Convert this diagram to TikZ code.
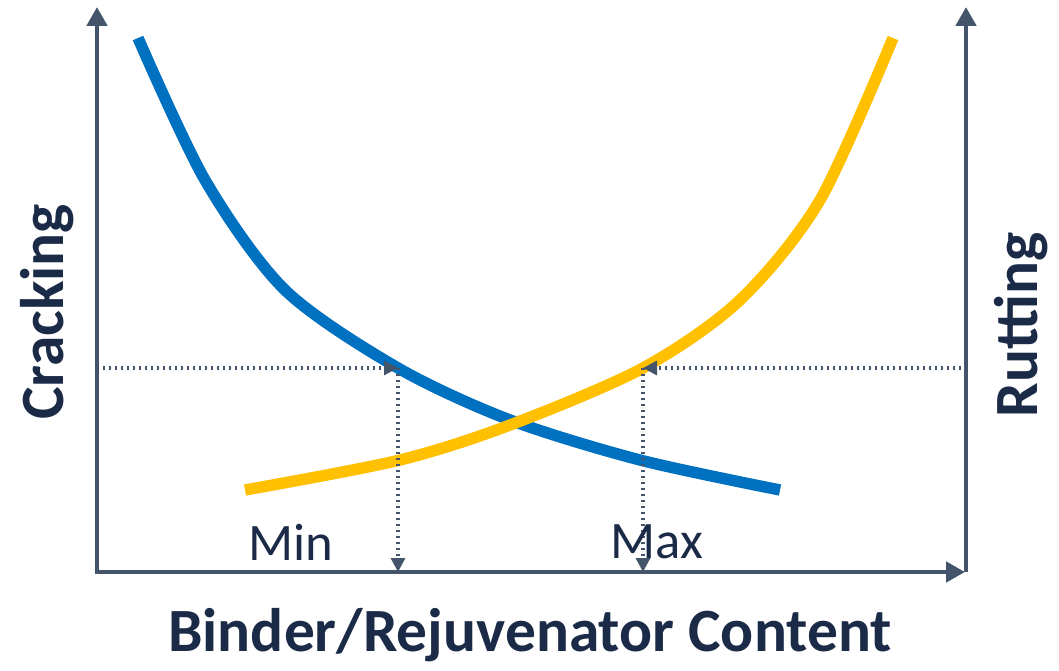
\documentclass[tikz,border=0pt]{standalone}
\usepackage{fontspec}
\setmainfont{Carlito}
\usepackage{xcolor}
\definecolor{axisgray}{HTML}{44546A}
\definecolor{crackblue}{HTML}{0070C0}
\definecolor{rutyellow}{HTML}{FFC000}
\definecolor{labelnavy}{HTML}{1B2A47}
\usepackage{tikz}
\usetikzlibrary{arrows.meta}

\tikzset{
    axisline/.style={draw=axisgray, line width=2.8pt, -{Triangle[width=0.4cm,length=0.38cm]}},
    guideline/.style={draw=axisgray, line width=1.8pt, dash pattern=on 0.05cm off 0.07cm, -{Triangle[width=0.28cm,length=0.28cm]}},
    curveline/.style={line width=6.5pt, smooth},
    axislabel/.style={text=labelnavy, font=\bfseries\fontsize{35}{40}\selectfont},
    marklabel/.style={text=labelnavy, font=\fontsize{30}{34}\selectfont}
}

\begin{document}
\begin{tikzpicture}[x=0.02cm, y=0.02cm]
            \useasboundingbox (-97, -98) rectangle (962, 572);

            % axes
            \coordinate (origin) at (0, 0);
            \coordinate (ytop) at (0, 565);
            \coordinate (xend) at (868, 0);
            \coordinate (rbase) at (869, 0);
            \coordinate (rtop) at (869, 565);
            \draw[axisline] (origin) -- (ytop);
            \draw[axisline] (rbase) -- (rtop);
            \draw[axisline] ([xshift=-1.4pt]origin) -- (xend);

            % the two curves
            \draw[curveline, crackblue] plot coordinates {(41,534) (108,392) (188,282) (301,204) (413,152) (543,112) (683,82)};
            \draw[curveline, rutyellow] plot coordinates {(148,82) (303,112) (413,147) (546,204) (643,272) (723,372) (796,534)};

            % read-off lines
            \coordinate (lefthit) at (6, 204);
            \coordinate (righthit) at (864, 204);
            \coordinate (minpt) at (301, 204);
            \coordinate (maxpt) at (546, 204);
            \coordinate (minfoot) at (301, 0);
            \coordinate (maxfoot) at (546, 0);
            \draw[guideline] (lefthit) -- (minpt);
            \draw[guideline] (minpt) -- (minfoot);
            \draw[guideline] (righthit) -- (maxpt);
            \draw[guideline] (maxpt) -- (maxfoot);

            \node[marklabel] (minlbl) at (194, 30) {Min};
            \node[marklabel] (maxlbl) at (560, 30) {Max};

            \node[axislabel, rotate=90] (cracking) at (-50, 260) {Cracking};
            \node[axislabel, rotate=90] (rutting) at (924, 247) {Rutting};
            \node[axislabel] (content) at (433, -63) {Binder/Rejuvenator Content};
        \end{tikzpicture}
\end{document}
